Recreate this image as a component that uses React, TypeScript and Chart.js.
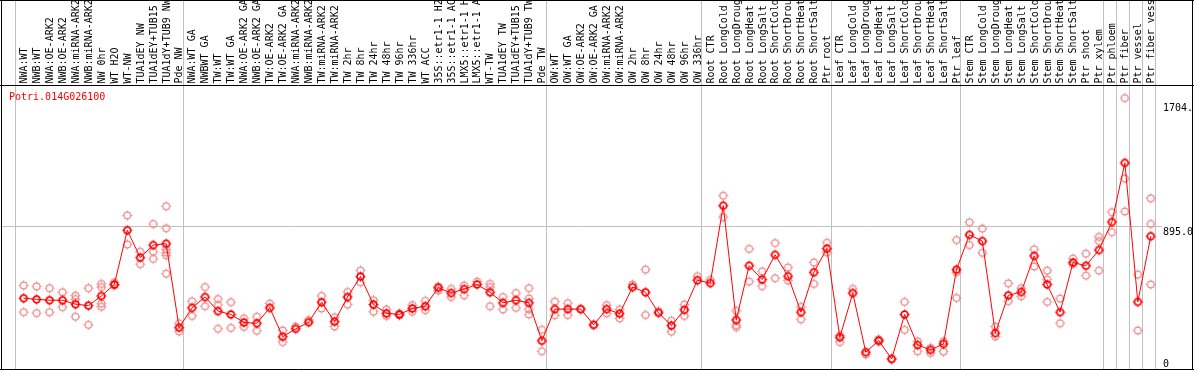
import React, { useEffect, useRef } from "react";
import { Chart, registerables } from "chart.js";

Chart.register(...registerables);

const geneId = "Potri.014G026100";

const categories = [
  "NWA:WT", "NWB:WT", "NWA:OE-ARK2", "NWB:OE-ARK2", "NWA:miRNA-ARK2", "NWB:miRNA-ARK2",
  "NW 0hr", "WT H2O", "WT-NW", "TUA1dEY NW", "TUA1dEY+TUB15", "TUA1dY+TUB9 NW", "Pde NW",
  "NWA:WT GA", "NWBWT GA", "TW:WT", "TW:WT GA", "NWA:OE-ARK2 GA", "NWB:OE-ARK2 GA",
  "TW:OE-ARK2", "TW:OE-ARK2 GA", "NWA:miRNA-ARK2", "NWB:miRNA-ARK2", "TW:miRNA-ARK2",
  "TW:miRNA-ARK2", "TW 2hr", "TW 8hr", "TW 24hr", "TW 48hr", "TW 96hr", "TW 336hr", "WT ACC",
  "35S::etr1-1 H2O", "35S::etr1-1 ACC", "LMX5::etr1-1 H2O", "LMX5::etr1-1 ACC", "WT-TW",
  "TUA1dEY TW", "TUA1dEY+TUB15", "TUA1dY+TUB9 TW", "Pde TW",
  "OW:WT", "OW:WT GA", "OW:OE-ARK2", "OW:OE-ARK2 GA", "OW:miRNA-ARK2", "OW:miRNA-ARK2",
  "OW 2hr", "OW 8hr", "OW 24hr", "OW 48hr", "OW 96hr", "OW 336hr",
  "Root CTR", "Root LongCold", "Root LongDrought", "Root LongHeat", "Root LongSalt",
  "Root ShortCold", "Root ShortDrought", "Root ShortHeat", "Root ShortSalt", "Ptr root",
  "Leaf CTR", "Leaf LongCold", "Leaf LongDrought", "Leaf LongHeat", "Leaf LongSalt",
  "Leaf ShortCold", "Leaf ShortDrought", "Leaf ShortHeat", "Leaf ShortSalt", "Ptr leaf",
  "Stem CTR", "Stem LongCold", "Stem LongDrought", "Stem LongHeat", "Stem LongSalt",
  "Stem ShortCold", "Stem ShortDrought", "Stem ShortHeat", "Stem ShortSalt", "Ptr shoot",
  "Ptr xylem", "Ptr phloem", "Ptr fiber", "Ptr vessel", "Ptr fiber vessel",
];

const meanValues = [
  424, 417, 411, 411, 385, 376, 439, 514, 869, 690, 772, 781, 232,
  361, 432, 340, 318, 265, 260, 361, 172, 224, 267, 398, 271, 432, 566, 383, 325, 318, 357,
  372, 493, 458, 484, 514, 463, 394, 411, 394, 146,
  353, 353, 353, 250, 353, 323, 497, 463, 329, 245, 348, 542,
  523, 1030, 282, 637, 546, 708, 568, 333, 594, 749,
  168, 458, 71, 147, 26, 318, 118, 86, 125, 611,
  839, 798, 196, 443, 465, 701, 514, 333, 658, 637, 740,
  923, 1310, 400, 830,
];

const replicateValues: number[][] = [
  [508, 333], [501, 327], [490, 333], [463, 366], [441, 419, 303], [490, 250],
  [518, 497, 389, 368], [529, 508], [966, 776], [729, 647], [910, 729, 682],
  [1026, 882, 744, 723, 705, 585], [260, 206],
  [404, 308], [497, 372], [419, 381, 224], [398, 230], [292, 237], [303, 211], [389],
  [213, 137], [239], [282], [439, 357], [299, 239], [465, 383], [605, 529], [411, 336],
  [351, 308], [325, 312], [379, 336], [407, 346], [501, 475], [486, 432], [508, 443],
  [533], [518, 497, 372], [432, 351], [458, 361], [490, 422, 351, 318], [217, 77],
  [402, 312], [392, 314], [353], [250], [379, 325], [351, 292], [514], [611, 314],
  [340], [277, 205], [383, 308], [568],
  [544], [1095, 955], [342, 247, 234], [747, 533], [600, 503], [785, 555], [626, 540],
  [368, 286], [658, 518], [787, 723],
  [137, 180], [486], [56], [140, 155], [30], [400, 217], [142, 77], [99, 66], [142, 75],
  [805, 594, 426],
  [921, 772], [880, 721], [239, 174], [521, 405], [490, 437], [744, 632],
  [605, 546, 400], [422, 260], [684, 647], [716, 572], [826, 798, 605],
  [987, 856], [1734, 1207, 992], [579, 213], [1078, 910, 514],
];

// index of the last category in each group (-1 = left edge)
const groupEnds = [-1, 12, 40, 52, 62, 72, 83, 84, 85, 86, 87];
const yTickValues = [0, 895, 1704];
const yTickLabels = ["0", "895.0", "1704.0"];
const gridValues = [895];

const MONO = "10px 'DejaVu Sans Mono', 'Liberation Mono', monospace";

function makeMarker(color: string, lw: number): HTMLCanvasElement {
  const c = document.createElement("canvas");
  c.width = 13;
  c.height = 13;
  const g = c.getContext("2d")!;
  g.strokeStyle = color;
  g.lineWidth = lw;
  g.beginPath();
  g.arc(6.5, 6.5, 3.4, 0, Math.PI * 2);
  g.stroke();
  g.lineWidth = 1;
  g.beginPath();
  g.moveTo(6.5, 1.5); g.lineTo(6.5, 3.2);
  g.moveTo(6.5, 9.8); g.lineTo(6.5, 11.5);
  g.moveTo(1.5, 6.5); g.lineTo(3.2, 6.5);
  g.moveTo(9.8, 6.5); g.lineTo(11.5, 6.5);
  g.stroke();
  return c;
}

const decorPlugin = {
  id: "decor",
  beforeDatasetsDraw(chart: any) {
    const { ctx, scales } = chart;
    const x = scales.x;
    const y = scales.y;
    ctx.save();
    ctx.strokeStyle = "#c0c0c0";
    ctx.lineWidth = 1;
    ctx.beginPath();
    groupEnds.forEach((i) => {
      const px = Math.floor(x.getPixelForValue(i + 0.35)) + 0.5;
      ctx.moveTo(px, 0);
      ctx.lineTo(px, 369);
    });
    gridValues.forEach((v) => {
      const py = Math.floor(y.getPixelForValue(v)) + 0.5;
      ctx.moveTo(1, py);
      ctx.lineTo(1162, py);
    });
    ctx.stroke();
    ctx.restore();
  },
  afterDraw(chart: any) {
    const { ctx, scales } = chart;
    const x = scales.x;
    const y = scales.y;
    ctx.save();
    // frame
    ctx.strokeStyle = "#000000";
    ctx.lineWidth = 1;
    ctx.beginPath();
    ctx.moveTo(0, 0.5); ctx.lineTo(1194, 0.5);
    ctx.moveTo(0, 85.5); ctx.lineTo(1194, 85.5);
    ctx.moveTo(0, 369.5); ctx.lineTo(1194, 369.5);
    ctx.moveTo(1.5, 0); ctx.lineTo(1.5, 370);
    ctx.moveTo(1192.5, 0); ctx.lineTo(1192.5, 370);
    ctx.stroke();

    // category labels (rotated)
    ctx.font = MONO;
    ctx.fillStyle = "#000000";
    ctx.textAlign = "left";
    ctx.textBaseline = "middle";
    categories.forEach((label, i) => {
      const px = x.getPixelForValue(i);
      ctx.save();
      ctx.translate(px + 0.8, 83.5);
      ctx.rotate(-Math.PI / 2);
      ctx.fillText(label, 0, 0);
      ctx.restore();
    });

    // gene id
    ctx.fillStyle = "#ff0000";
    ctx.textBaseline = "alphabetic";
    ctx.fillText(geneId, 9, 100);

    // y labels on the right
    ctx.save();
    ctx.beginPath();
    ctx.rect(1156, 86, 36, 283);
    ctx.clip();
    ctx.fillStyle = "#000000";
    yTickValues.forEach((v, k) => {
      const py = y.getPixelForValue(v);
      const base = Math.min(py + 8.5, 366.5);
      ctx.fillText(yTickLabels[k], 1163, base);
    });
    ctx.restore();
    ctx.restore();
  },
};

export default function App() {
  const ref = useRef<HTMLCanvasElement | null>(null);

  useEffect(() => {
    const canvas = ref.current;
    if (!canvas) return;
    const meanMarker = makeMarker("#ff0000", 1.8);
    const repMarker = makeMarker("rgb(236,140,140)", 1.2);

    const meanPoints = meanValues.map((v, i) => ({ x: i, y: v }));
    const repPoints: { x: number; y: number }[] = [];
    replicateValues.forEach((arr, i) => arr.forEach((v) => repPoints.push({ x: i, y: v })));

    const chart = new Chart(canvas, {
      type: "line",
      data: {
        datasets: [
          {
            label: "mean",
            data: meanPoints,
            borderColor: "#ff0000",
            borderWidth: 1,
            pointStyle: meanMarker as any,
            pointRadius: 4,
            tension: 0,
            fill: false,
          },
          {
            label: "replicates",
            data: repPoints,
            showLine: false,
            borderColor: "rgb(236,140,140)",
            pointStyle: repMarker as any,
            pointRadius: 4,
            fill: false,
          },
        ],
      },
      options: {
        responsive: false,
        animation: false,
        devicePixelRatio: 1,
        events: [],
        layout: { padding: { left: 1, top: 85, right: 38.3, bottom: 1 } },
        plugins: {
          legend: { display: false },
          tooltip: { enabled: false },
          title: { display: false },
        },
        scales: {
          x: { type: "linear", display: false, min: -1.4385, max: 87.38 },
          y: { type: "linear", display: false, min: -12.9, max: 1819.7 },
        },
      },
      plugins: [decorPlugin],
    });
    return () => chart.destroy();
  }, []);

  return (
    <div style={{ position: "absolute", left: 0, top: 0, width: 1194, height: 370, background: "#ffffff" }}>
      <canvas ref={ref} width={1194} height={370} style={{ display: "block", width: 1194, height: 370 }} />
    </div>
  );
}
